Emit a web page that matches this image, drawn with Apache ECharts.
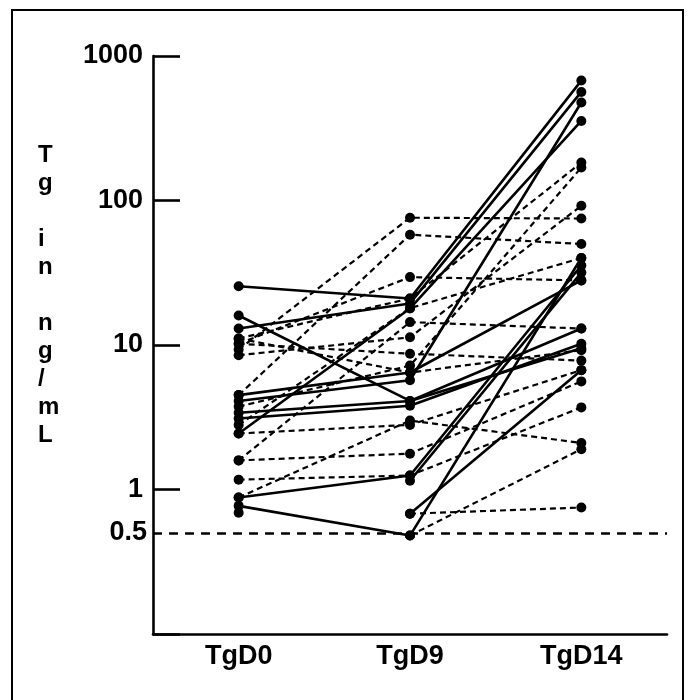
<!DOCTYPE html>
<html>
<head>
<meta charset="utf-8">
<script src="https://cdn.jsdelivr.net/npm/echarts@6/dist/echarts.min.js"></script>
<style>
  html, body { margin: 0; padding: 0; background: #fff; }
  #chart { width: 689px; height: 700px; }
</style>
</head>
<body>
<div id="chart"></div>
<script>
// days on the x axis
const categories = ['TgD0', 'TgD9', 'TgD14'];
// y axis labels (log scale)
const yTickLabels = [1, 10, 100, 1000];
const detectionLimit = 0.5;

// patients drawn with solid lines: Tg at day 0, day 9, day 14 ('-' = missing)
const solidD0  = [25.5, 13,   2.44, 16,  4.5,  4.1, 3.4, 3.1,  0.88, 0.77, '-',  '-'];
const solidD9  = [21,   19.4, 17.9, 4.1, 6.45, 5.7, 4.1, 3.8,  1.25, 0.48, 1.15, 0.68];
const solidD14 = [676,  564,  355,  9.5, 28,   477, 13,  10.2, 35.5, 40,   31.7, 6.7];

// patients drawn with dashed lines
const dashedD0  = [9.3, 4.5, 10.2, 11.1, 8.5,  10.2, 3.75, 2.8, 1.59, 1.59, 1.17, 0.88, 2.44, '-',  '-',  11.1, 0.69];
const dashedD9  = [76,  58,  29.5, 21,   11.3, 8.7,  7.2,  18,  14.4, 1.77, 1.25, 3.0,  2.8,  0.48, 0.68, 6.45, '-'];
const dashedD14 = [75,  50,  28,   183,  92,   7.8,  169,  40,  13,   5.6,  3.7,  2.1,  6.7,  1.9,  0.75, 9.2,  '-'];

const font = 'Liberation Sans, Arial, sans-serif';

function makeSeries(d0, d9, d14, type) {
  return d0.map((v, i) => ({
    type: 'line',
    data: [d0[i], d9[i], d14[i]],
    symbol: 'circle',
    symbolSize: 10,
    itemStyle: { color: '#000' },
    lineStyle: { color: '#000', width: type === 'solid' ? 2.6 : 2.2, type: type === 'solid' ? 'solid' : [6, 4] },
    connectNulls: false,
    silent: true,
    z: type === 'solid' ? 3 : 2
  }));
}

const series = [
  ...makeSeries(dashedD0, dashedD9, dashedD14, 'dashed'),
  ...makeSeries(solidD0, solidD9, solidD14, 'solid')
];

// 0.5 ng/mL detection limit line
series.push({
  type: 'line',
  data: [],
  markLine: {
    silent: true,
    symbol: 'none',
    lineStyle: { color: '#000', width: 2.6, type: [9, 7] },
    label: { show: true, position: 'start', formatter: String(detectionLimit), color: '#000', fontFamily: font, fontWeight: 'bold', fontSize: 27, distance: 6 },
    data: [{ yAxis: detectionLimit }]
  }
});

const chart = echarts.init(document.getElementById('chart'));
chart.setOption({
  animation: false,
  backgroundColor: '#fff',
  grid: { left: 153, top: 56, width: 514, height: 578 },
  graphic: [
    { type: 'rect', shape: { x: 12, y: 10, width: 671, height: 700 }, style: { fill: 'none', stroke: '#000', lineWidth: 2 } },
    {
      type: 'text', left: 38, top: 141,
      style: { text: 'T\ng\n\ni\nn\n\nn\ng\n/\nm\nL', font: 'bold 24px ' + font, lineHeight: 28, fill: '#000', align: 'center' }
    }
  ],
  xAxis: {
    type: 'category',
    data: categories,
    boundaryGap: true,
    axisLine: { lineStyle: { color: '#000', width: 2.6 } },
    axisTick: { show: false },
    axisLabel: { color: '#000', fontFamily: font, fontWeight: 'bold', fontSize: 27, margin: 9 },
    splitLine: { show: false }
  },
  yAxis: {
    type: 'log',
    logBase: 10,
    min: 0.1,
    max: 1000,
    axisLine: { show: true, lineStyle: { color: '#000', width: 2.6 } },
    axisTick: { show: true, inside: true, length: 27, lineStyle: { color: '#000', width: 2.6 } },
    axisLabel: {
      color: '#000', fontFamily: font, fontWeight: 'bold', fontSize: 27, margin: 10,
      formatter: v => (yTickLabels.indexOf(Math.round(v * 1000) / 1000) >= 0 ? String(Math.round(v)) : '')
    },
    splitLine: { show: false }
  },
  series: series
});
</script>
</body>
</html>
